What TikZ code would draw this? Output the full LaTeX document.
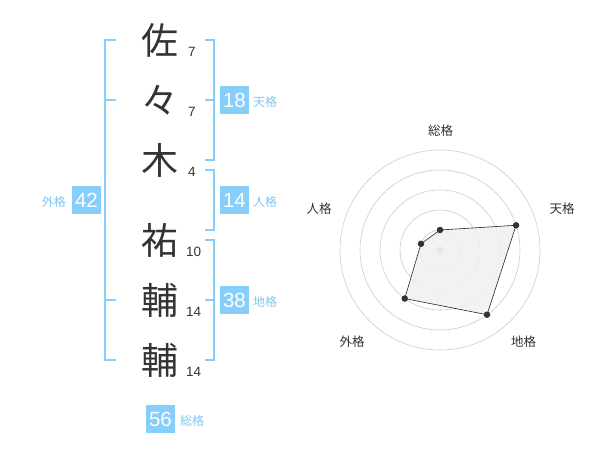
\documentclass[tikz,border=0pt]{standalone}
\usepackage{fontspec}
\setmainfont{Liberation Sans}
\newfontfamily\jp{Noto Sans CJK JP}
\begin{document}
\begin{tikzpicture}[x=1pt,y=-1pt,
  kanji/.style={font=\jp\fontsize{37}{37}\selectfont, text=black!80, inner sep=0pt},
  strokenum/.style={font=\fontsize{13.5}{13.5}\selectfont, text=black!80, inner sep=0pt, anchor=west},
  bracket/.style={draw=skyblue, line width=1.6pt},
  numbox/.style={fill=skyblue, text=white, minimum width=29pt, minimum height=28pt, inner sep=0pt, font=\fontsize{20.5}{20.5}\selectfont},
  kaku/.style={font=\jp\fontsize{12}{12}\selectfont, text=skytext, inner sep=0pt},
  ring/.style={draw=black!20, line width=0.6pt},
  rlabel/.style={font=\jp\fontsize{12.5}{12.5}\selectfont, text=black!80, inner sep=0pt},
  dot/.style={circle, fill=black!80, inner sep=0pt, minimum size=6.5pt}
]
\definecolor{skyblue}{HTML}{87CEFA}
\definecolor{skytext}{HTML}{7CC6F2}
\useasboundingbox (0,0) rectangle (600,470);
% kanji
\node[kanji] (k1) at (160,40) {佐};
\node[kanji] (k2) at (160,100) {々};
\node[kanji] (k3) at (160,160) {木};
\node[kanji] (k4) at (160,240) {祐};
\node[kanji] (k5) at (160,300) {輔};
\node[kanji] (k6) at (160,360) {輔};
% stroke numbers
\node[strokenum] (n1) at (188,52) {7};
\node[strokenum] (n2) at (188,112) {7};
\node[strokenum] (n3) at (188,172) {4};
\node[strokenum] (n4) at (186,252) {10};
\node[strokenum] (n5) at (186,312) {14};
\node[strokenum] (n6) at (186,372) {14};
% left bracket (gaikaku)
\coordinate (lt) at (105,40);
\coordinate (lb) at (105,360);
\draw[bracket] (116,40) -- (lt) -- (lb) -- (116,360);
\draw[bracket] (105,100) -- (116,100);
\draw[bracket] (105,300) -- (116,300);
\node[numbox] (b42) at (86.5,200) {42};
\node[kaku, anchor=east] (t42) at (66,202) {外格};
% tenkaku bracket
\draw[bracket] (205,40) -- (214,40) -- (214,160) -- (205,160);
\draw[bracket] (214,100) -- (205,100);
\node[numbox] (b18) at (234.5,100) {18};
\node[kaku, anchor=west] (t18) at (253,102) {天格};
% jinkaku bracket
\draw[bracket] (205,170) -- (214,170) -- (214,230) -- (205,230);
\node[numbox] (b14) at (234.5,200) {14};
\node[kaku, anchor=west] (t14) at (253,202) {人格};
% chikaku bracket
\draw[bracket] (205,240) -- (214,240) -- (214,360) -- (205,360);
\draw[bracket] (214,300) -- (205,300);
\node[numbox] (b38) at (234.5,300) {38};
\node[kaku, anchor=west] (t38) at (253,302) {地格};
% soukaku
\node[numbox] (b56) at (160.5,419) {56};
\node[kaku, anchor=west] (t56) at (180,421) {総格};
% radar
\coordinate (c) at (440,250);
\foreach \r in {20,40,60,80,100} \draw[ring] (c) circle[radius=\r];
\fill[black!30] (c) circle[radius=3.5];
\path (c) ++(0,-20) coordinate (ps)
      (c) ++(-18:80) coordinate (pt)
      (c) ++(54:80) coordinate (pc)
      (c) ++(126:60) coordinate (pg)
      (c) ++(-162:20) coordinate (pj);
\draw[fill=black!6, fill opacity=0.85, draw=black!85, line width=0.6pt]
  (ps) -- (pt) -- (pc) -- (pg) -- (pj) -- cycle;
\foreach \p in {ps,pt,pc,pg,pj} \node[dot] (d\p) at (\p) {};
\node[rlabel] (ls) at (440.5,131) {総格};
\node[rlabel] (lt2) at (562,208.5) {天格};
\node[rlabel] (lj) at (319,208.5) {人格};
\node[rlabel] (lg) at (352,342) {外格};
\node[rlabel] (lc) at (523.5,342) {地格};
\end{tikzpicture}
\end{document}
